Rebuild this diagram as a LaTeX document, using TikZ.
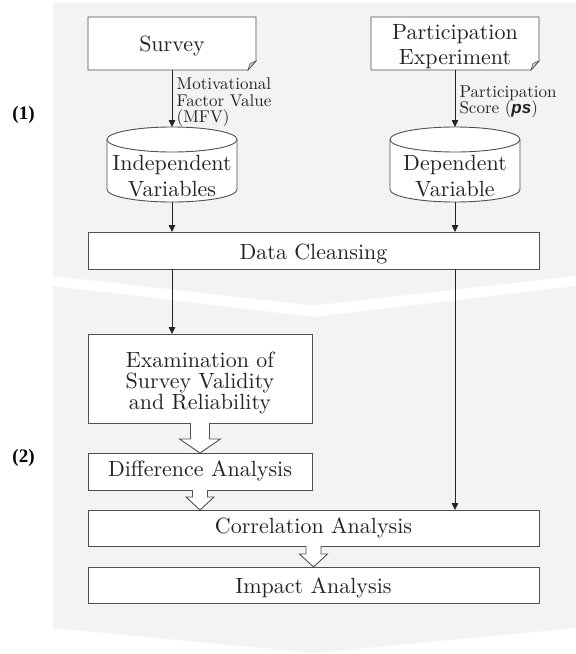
\documentclass[tikz,border=0pt]{standalone}
\usepackage{fontspec}
\setmainfont{lmroman10-regular.otf}[BoldFont=lmroman10-bold.otf,ItalicFont=lmroman10-italic.otf]
\newfontfamily\numfont{Liberation Serif}
\newfontfamily\sansfnt{Liberation Sans}
\usetikzlibrary{arrows.meta,calc}
\definecolor{panel}{RGB}{242,243,242}
\definecolor{edge}{RGB}{80,80,80}
\definecolor{ink}{RGB}{35,35,35}
\definecolor{fold}{RGB}{215,215,215}
\newcommand\hollowarrow[5]{%
  \fill[white] let \p1=(#1), \p2=(#2) in
    ({\x1-#3},{\y1+0.8pt}) -- ({\x1-#3},{\y2+#5}) -- ({\x1-#4},{\y2+#5}) -- (\x1,\y2)
    -- ({\x1+#4},{\y2+#5}) -- ({\x1+#3},{\y2+#5}) -- ({\x1+#3},{\y1+0.8pt}) -- cycle;
  \draw[edge,line width=0.9pt,line join=miter] let \p1=(#1), \p2=(#2) in
    ({\x1-#3},\y1) -- ({\x1-#3},{\y2+#5}) -- ({\x1-#4},{\y2+#5}) -- (\x1,\y2)
    -- ({\x1+#4},{\y2+#5}) -- ({\x1+#3},{\y2+#5}) -- ({\x1+#3},\y1);
}
\newcommand\cylinderoutline[1]{%
  \draw[edge,line width=0.9pt,fill=white]
    ([yshift=-12.5pt]#1.north west) -- ([yshift=12.5pt]#1.south west)
    arc[start angle=180,end angle=360,x radius=65pt,y radius=12.5pt]
    -- ([yshift=-12.5pt]#1.north east)
    arc[start angle=0,end angle=180,x radius=65pt,y radius=12.5pt] -- cycle;
  \draw[edge,line width=0.9pt] ([yshift=-12.5pt]#1.north west)
    arc[start angle=180,end angle=360,x radius=65pt,y radius=12.5pt];
}
\newcommand\noteoutline[1]{%
  \draw[edge,line width=0.9pt,fill=white,line join=miter]
    (#1.north west) -- (#1.north east) -- ([yshift=9pt]#1.south east)
    -- ([xshift=-8pt]#1.south east) -- (#1.south west) -- cycle;
  \draw[edge,line width=0.6pt,fill=fold]
    ([xshift=-8pt]#1.south east) -- ([xshift=-6pt,yshift=6.5pt]#1.south east)
    -- ([yshift=9pt]#1.south east) -- cycle;
}
\begin{document}
\begin{tikzpicture}[x=1pt,y=-1pt,
  ghost/.style={inner sep=0pt,outer sep=0pt},
  box/.style={draw=edge,line width=0.9pt,fill=white,inner sep=0pt,outer sep=0pt},
  txt/.style={inner sep=0pt,anchor=base,font=\fontsize{22}{26}\selectfont,text=ink},
  lab/.style={inner sep=0pt,anchor=base west,font=\fontsize{17}{20}\selectfont,text=ink},
  part/.style={inner sep=0pt,font=\numfont\bfseries\fontsize{19}{21}\selectfont},
  conn/.style={draw=ink,line width=0.8pt,-{Triangle[length=7pt,width=6.5pt]}}]
\useasboundingbox (0,0) rectangle (576,654);
% panels
\fill[panel] (53,3) -- (576,3) -- (576,276) -- (313.5,305.5) -- (53,276) -- cycle;
\fill[panel] (53,286) -- (313.5,317) -- (576,286) -- (576,628) -- (313.5,653) -- (53,628) -- cycle;
\node[part] (p1) at (23.5,115) {(1)};
\node[part] (p2) at (23.5,458) {(2)};
% top boxes
\node[ghost,minimum width=168pt,minimum height=53pt] (survey) at (172,43.5) {};
\node[ghost,minimum width=168pt,minimum height=53pt] (partexp) at (455,43.5) {};
\noteoutline{survey}
\noteoutline{partexp}
\node[txt] (surveyT) at (172,51.7) {Survey};
\node[txt] (partexpT1) at (455,39.3) {Participation};
\node[txt] (partexpT2) at (455,64.3) {Experiment};
% cylinders
\node[ghost,minimum width=130pt,minimum height=75pt] (indep) at (172,164.5) {};
\node[ghost,minimum width=130pt,minimum height=75pt] (dep) at (455,164.5) {};
\cylinderoutline{indep}
\cylinderoutline{dep}
\node[txt] (indepT1) at (172,170.7) {Independent};
\node[txt] (indepT2) at (172,196.7) {Variables};
\node[txt] (depT1) at (455,170.7) {Dependent};
\node[txt] (depT2) at (455,196.7) {Variable};
% labels
\node[lab] (mfv1) at (176.5,89.5) {Motivational};
\node[lab] (mfv2) at (176.5,106) {Factor Value};
\node[lab] (mfv3) at (176.5,122.5) {(MFV)};
\node[lab] (ps1) at (459.3,97.5) {Participation};
\node[lab] (ps2) at (459.3,113.5) {Score ({\sansfnt\bfseries\itshape ps})};
% boxes
\node[box,minimum width=451pt,minimum height=37pt] (clean) at (313.5,250.5) {};
\node[txt] (cleanT) at (313.5,259.3) {Data Cleansing};
\node[box,minimum width=224pt,minimum height=89pt] (exam) at (200,378.5) {};
\node[txt] (examT1) at (200,367.3) {Examination of};
\node[txt] (examT2) at (200,388.3) {Survey Validity};
\node[txt] (examT3) at (200,409) {and Reliability};
\node[box,minimum width=224pt,minimum height=37pt] (diff) at (200,471.5) {};
\node[txt] (diffT) at (200,476.7) {Difference Analysis};
\node[box,minimum width=451pt,minimum height=36pt] (corr) at (313.5,528) {};
\node[txt] (corrT) at (313.5,533.3) {Correlation Analysis};
\node[box,minimum width=451pt,minimum height=36pt] (impact) at (313.5,585) {};
\node[txt] (impactT) at (313.5,593.3) {Impact Analysis};
% connectors
\draw[conn] (survey) -- (indep);
\draw[conn] (partexp) -- (dep);
\draw[conn] (indep) -- (indep |- clean.north);
\draw[conn] (dep) -- (dep |- clean.north);
\draw[conn] (clean.south -| indep) -- (exam.north -| indep);
\draw[conn] (clean.south -| dep) -- (corr.north -| dep);
% hollow arrows
\hollowarrow{exam.south}{diff.north}{9.5pt}{20.5pt}{14pt}
\hollowarrow{diff.south}{corr.north}{7.5pt}{14pt}{13pt}
\hollowarrow{corr.south}{impact.north}{7.5pt}{14pt}{13pt}
\end{tikzpicture}
\end{document}
